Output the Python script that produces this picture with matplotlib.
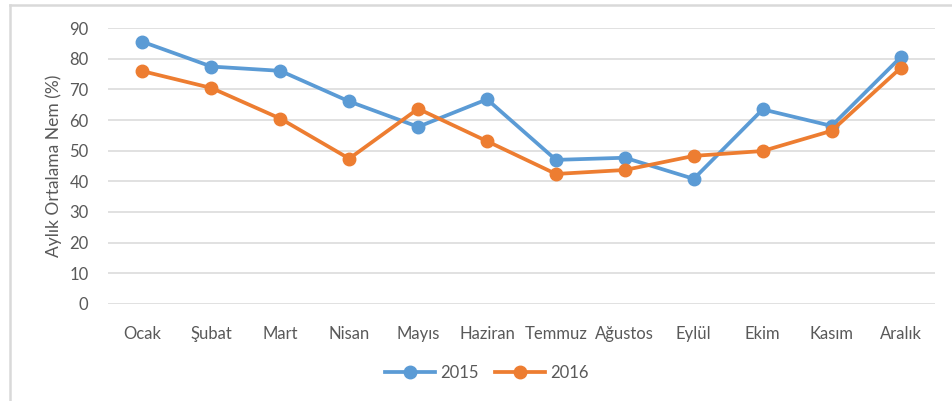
import matplotlib
matplotlib.use("Agg")
import matplotlib.pyplot as plt
from matplotlib.lines import Line2D

months = ["Ocak", "Şubat", "Mart", "Nisan", "Mayıs", "Haziran", "Temmuz",
          "Ağustos", "Eylül", "Ekim", "Kasım", "Aralık"]
nem_2015 = [85.6, 77.5, 76.1, 66.1, 57.8, 66.8, 47.0, 47.7, 40.8, 63.5, 58.1, 80.5]
nem_2016 = [76.0, 70.5, 60.5, 47.4, 63.7, 53.1, 42.4, 43.7, 48.3, 49.9, 56.5, 77.0]
y_ticks = [0, 10, 20, 30, 40, 50, 60, 70, 80, 90]

blue = "#5B9BD5"
orange = "#ED7D31"
text_col = "#595959"
grid_col = "#D9D9D9"

plt.rcParams["font.family"] = ["Lato", "DejaVu Sans"]

W, H = 952, 401
fig = plt.figure(figsize=(W / 100, H / 100), dpi=100)
ax = fig.add_axes([108 / W, 1 - 303.7 / H, (935 - 108) / W, (303.7 - 28.3) / H])

x = list(range(len(months)))
ax.plot(x, nem_2015, color=blue, lw=2.7, marker="o", ms=9, label="2015",
        solid_joinstyle="round", zorder=3)
ax.plot(x, nem_2016, color=orange, lw=2.7, marker="o", ms=9, label="2016",
        solid_joinstyle="round", zorder=4)

ax.set_xlim(-0.5, len(months) - 0.5)
ax.set_ylim(0, 90)
ax.set_yticks(y_ticks)
ax.set_xticks(x)
ax.set_xticklabels(months)
ax.tick_params(axis="both", length=0, labelsize=12, colors=text_col)
ax.tick_params(axis="y", pad=14)
ax.tick_params(axis="x", pad=16)
ax.grid(axis="y", color=grid_col, lw=1.1)
ax.set_axisbelow(True)
for s in ax.spines.values():
    s.set_visible(False)

ax.set_ylabel("Aylık Ortalama Nem (%)", fontsize=12.5, color=text_col, labelpad=5)

handles = [Line2D([], [], color=blue, lw=2.7, marker="o", ms=9),
           Line2D([], [], color=orange, lw=2.7, marker="o", ms=9)]
fig.legend(handles, ["2015", "2016"], loc="center", bbox_to_anchor=(487 / W, 1 - 373 / H),
           ncol=2, frameon=False, fontsize=12, labelcolor=text_col,
           handlelength=3.0, handletextpad=0.3, columnspacing=1.0)

# chart frame (top and left edges)
fig.add_artist(Line2D([9.5 / W, 1.0], [1 - 5 / H, 1 - 5 / H], color=grid_col, lw=1.8,
                      transform=fig.transFigure))
fig.add_artist(Line2D([10 / W, 10 / W], [0, 1 - 5 / H], color=grid_col, lw=1.8,
                      transform=fig.transFigure))

fig.savefig("out.png", dpi=100, facecolor="white")
